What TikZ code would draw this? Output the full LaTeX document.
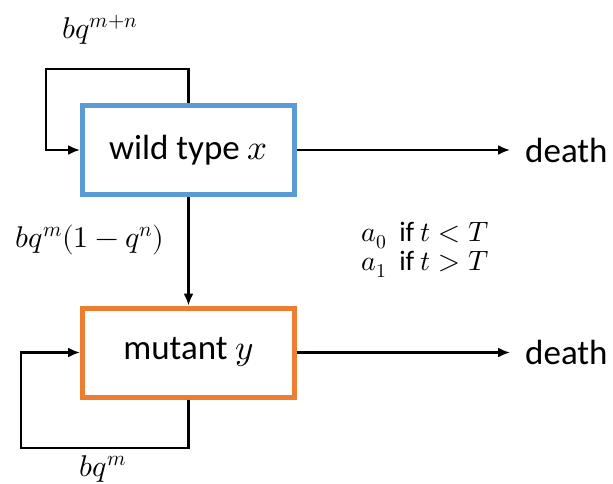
\documentclass[tikz,border=0pt]{standalone}
\usepackage{fontspec}
\usepackage{unicode-math}
\setmainfont{Carlito}
\setmathfont{Latin Modern Math}
\usetikzlibrary{arrows.meta}
\tikzset{
  box/.style={draw, line width=5pt, fill=white, minimum width=212pt, minimum height=89pt,
    font=\fontsize{35}{42}\selectfont},
  flow/.style={draw=black, line width=2.2pt, -{Latex[length=12pt,width=10pt]}},
  rate/.style={inner sep=0pt, font=\fontsize{30}{36}\selectfont},
  sink/.style={anchor=west, inner xsep=15pt, inner ysep=4pt, font=\fontsize{35}{42}\selectfont}
}

\begin{document}
\begin{tikzpicture}[x=1pt,y=1pt]
\definecolor{wildColor}{RGB}{91,155,213}
\definecolor{mutColor}{RGB}{237,125,49}
\path[use as bounding box,fill=white] (0,0) rectangle (613,483);

\node[box,draw=wildColor] (wild) at (188.5,333) {wild type $x$};
\node[box,draw=mutColor] (mutant) at (188.5,130.5) {mutant $y$};

\node[sink] (deathW) at (510,333) {death};
\node[sink] (deathM) at (510,130.5) {death};

\coordinate (loopW) at (46,414);
\coordinate (loopM) at (21,35);

% self renewal loops
\draw[flow] (wild.north) |- (loopW) |- (wild.west);
\draw[flow] (mutant.south) |- (loopM) |- (mutant.west);

% mutation and death
\draw[flow] (wild.south) -- (mutant.north);
\draw[flow] (wild.east) -- (deathW.west);
\draw[flow] (mutant.east) -- (deathM.west);

\node[rate] (rateW) at (100,453) {$bq^{m+n}$};
\node[rate] (rateWM) at (90,243) {$bq^{m}(1-q^{n})$};
\node[rate] (rateM) at (103,14) {$bq^{m}$};
\node[rate,align=left,font=\fontsize{28}{33}\selectfont] (rateD) at (425,233)
  {$a_0$\ \ if $t<T$\\[-4pt]$a_1$\ \ if $t>T$};
\end{tikzpicture}
\end{document}
